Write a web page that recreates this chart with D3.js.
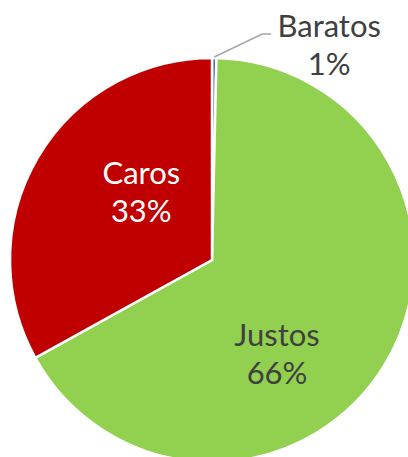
<!DOCTYPE html>
<html>
<head>
<meta charset="utf-8">
<script src="https://cdn.jsdelivr.net/npm/d3@7"></script>
<style>
  body { margin: 0; background: #fff; }
  svg { display: block; font-family: Lato, "Open Sans", sans-serif; }
</style>
</head>
<body>
<svg id="chart" width="408" height="457"></svg>
<script>
// slice values, in drawing order (clockwise from 12 o'clock)
const categories = ["Baratos", "Justos", "Caros"];
const values = [0.35, 66.6, 33.05];
const percentLabels = ["1%", "66%", "33%"];
const colors = ["#4472C4", "#92D050", "#C00000"];
const textColors = ["#404040", "#404040", "#ffffff"];

const cx = 212, cy = 260, radius = 202;
const fontSize = 31, lineGap = 38;

// label anchors in units of radius, relative to the centre
const labelPos = [
    {x: 0.58, y: -1.104},
    {x: 0.322, y: 0.426},
    {x: -0.35, y: -0.376}
];

const svg = d3.select("#chart");
const g = svg.append("g").attr("transform", `translate(${cx},${cy})`);

const pie = d3.pie().sort(null).value((d) => d.value);
const arc = d3.arc().innerRadius(0).outerRadius(radius);

const data = categories.map((c, i) => ({name: c, value: values[i], i: i}));
const arcs = pie(data);

g.selectAll("path.slice")
    .data(arcs)
    .join("path")
    .attr("class", "slice")
    .attr("d", arc)
    .attr("fill", (d) => colors[d.data.i])
    .attr("stroke", "#fff")
    .attr("stroke-width", 2.5)
    .attr("stroke-linejoin", "miter");

// leader line for the tiny slice
const tiny = arcs[0];
const mid = (tiny.startAngle + tiny.endAngle) / 2;
const p0 = [Math.sin(mid) * (radius + 1), -Math.cos(mid) * (radius + 1)];
const lp = labelPos[0];
const elbowY = lp.y * radius - 3;
const p1 = [lp.x * radius - 67, elbowY];
const p2 = [lp.x * radius - 58, elbowY];
g.append("polyline")
    .attr("points", [p0, p1, p2].map((p) => p.join(",")).join(" "))
    .attr("fill", "none")
    .attr("stroke", "#A6A6A6")
    .attr("stroke-width", 1.5);

const labels = g.selectAll("text.label")
    .data(arcs)
    .join("text")
    .attr("class", "label")
    .attr("text-anchor", "middle")
    .attr("font-size", fontSize)
    .attr("fill", (d) => textColors[d.data.i])
    .attr("transform", (d) => {
        let p = labelPos[d.data.i];
        return `translate(${p.x * radius},${p.y * radius})`;
    });
labels.append("tspan")
    .attr("x", 0)
    .attr("y", 0)
    .text((d) => d.data.name);
labels.append("tspan")
    .attr("x", 0)
    .attr("y", lineGap)
    .text((d) => percentLabels[d.data.i]);
</script>
</body>
</html>
